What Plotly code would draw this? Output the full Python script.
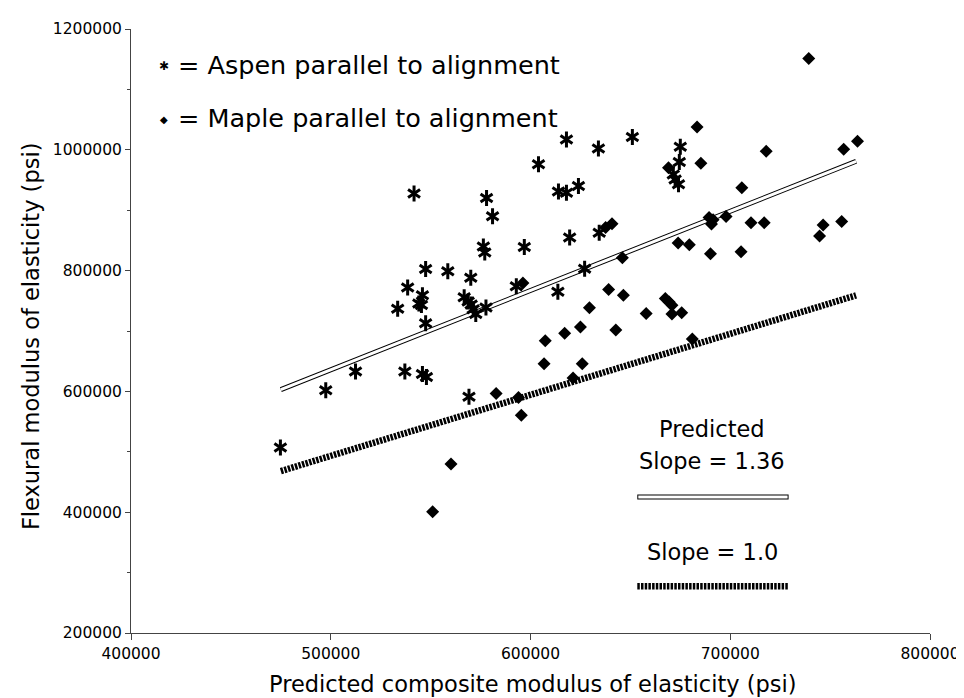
import plotly.graph_objects as go

# ---- data ----
aspen_x = [541700, 578000, 581000, 604000, 618000, 634000, 651000, 614000, 618000, 624000,
           675000, 674500, 671500, 672400, 674100, 576400, 577100, 596900, 619600, 634400,
           547500, 558600, 570100, 538500, 545900, 544100, 545400, 533500, 547500, 566800,
           568800, 570300, 571300, 572600, 577700, 592900, 627100, 613700, 512400, 497500,
           537100, 545900, 547900, 569200, 474800]
aspen_y = [927500, 920000, 890000, 976000, 1017000, 1002000, 1021000, 931000, 929000, 940000,
           1005000, 980000, 959000, 951000, 943000, 840000, 830000, 839000, 855000, 862500,
           802500, 799000, 788000, 772000, 759000, 745500, 743000, 737000, 713000, 756000,
           749000, 744000, 736000, 728000, 739000, 774000, 803000, 765000, 633000, 602000,
           633000, 629000, 624000, 591000, 507000]

maple_x = [739300, 683400, 718000, 756800, 763700, 685300, 669100, 705800, 689400, 691400,
           690600, 697900, 710400, 717000, 746500, 755800, 744700, 673900, 679500, 690100,
           705400, 646000, 637600, 640800, 639100, 646500, 629500, 657900, 667500, 669400,
           670800, 670800, 675700, 625000, 617100, 642700, 607400, 606800, 625900, 621300,
           681000, 582800, 594000, 595400, 560200, 551000, 596200]
maple_y = [1151000, 1037700, 997700, 1001000, 1014000, 977600, 970200, 937300, 888000, 884200,
           877200, 889600, 879300, 879300, 875500, 881400, 857400, 845900, 842600, 827800,
           831100, 821200, 871500, 877600, 768600, 759200, 738600, 729100, 753800, 748200,
           742800, 728000, 730100, 706600, 696200, 701600, 684000, 645700, 645700, 622200,
           686800, 596400, 589800, 560700, 479600, 400700, 779400]

pred_line_x = [475000, 763000]
pred_line_y = [603000, 981000]
one_line_x = [475000, 763000]
one_line_y = [468000, 759000]

x_ticks = [400000, 500000, 600000, 700000, 800000]
y_ticks = [200000, 400000, 600000, 800000, 1000000, 1200000]

FONT = "DejaVu Sans, Verdana, sans-serif"

fig = go.Figure()

# Slope = 1.0 line (thick hatched)
fig.add_trace(go.Scatter(x=one_line_x, y=one_line_y, mode="lines",
                         line=dict(color="black", width=6.5, dash="2.5px,1.2px"),
                         hoverinfo="skip", showlegend=False))
# Predicted line (double line: black outline with white core)
fig.add_trace(go.Scatter(x=pred_line_x, y=pred_line_y, mode="lines",
                         line=dict(color="black", width=5),
                         hoverinfo="skip", showlegend=False))
fig.add_trace(go.Scatter(x=pred_line_x, y=pred_line_y, mode="lines",
                         line=dict(color="white", width=3),
                         hoverinfo="skip", showlegend=False))

# Aspen: six-armed asterisk (two overlaid Y symbols)
for sym in ["y-up-open", "y-down-open"]:
    fig.add_trace(go.Scatter(x=aspen_x, y=aspen_y, mode="markers",
                             marker=dict(symbol=sym, size=10, color="black",
                                         line=dict(color="black", width=3)),
                             name="Aspen", showlegend=False))
# Maple: filled diamonds
fig.add_trace(go.Scatter(x=maple_x, y=maple_y, mode="markers",
                         marker=dict(symbol="diamond", size=10, color="black",
                                     line=dict(width=0)),
                         name="Maple", showlegend=False))

L, R, T, B = 123, 931, 17, 625
W, H = 964, 698

def px(xp):
    return (xp - L) / (R - L)

def py(yp):
    return (B - yp) / (B - T)

ann = []
# top-left key
ann.append(dict(x=px(156), y=py(54), text="✱", font=dict(size=12),
                showarrow=False, xanchor="center", yanchor="middle"))
ann.append(dict(x=px(169), y=py(53), text="= Aspen parallel to alignment",
                font=dict(size=25.5), showarrow=False, xanchor="left", yanchor="middle"))
ann.append(dict(x=px(156), y=py(108), text="◆", font=dict(size=10),
                showarrow=False, xanchor="center", yanchor="middle"))
ann.append(dict(x=px(169), y=py(107), text="= Maple parallel to alignment",
                font=dict(size=25.5), showarrow=False, xanchor="left", yanchor="middle"))
# line key texts
ann.append(dict(x=px(711), y=py(420), text="Predicted", font=dict(size=22.5),
                showarrow=False, xanchor="center", yanchor="middle"))
ann.append(dict(x=px(711), y=py(452), text="Slope = 1.36", font=dict(size=22.5),
                showarrow=False, xanchor="center", yanchor="middle"))
ann.append(dict(x=px(711), y=py(543), text="Slope = 1.0", font=dict(size=22.5),
                showarrow=False, xanchor="center", yanchor="middle"))
# axis titles
ann.append(dict(x=px(22), y=py(326), text="Flexural modulus of elasticity (psi)",
                textangle=-90, font=dict(size=22.5), showarrow=False,
                xanchor="center", yanchor="middle"))
ann.append(dict(x=px(530), y=py(676), text="Predicted composite modulus of elasticity (psi)",
                font=dict(size=22.5), showarrow=False, xanchor="center", yanchor="middle"))
for a in ann:
    a["xref"] = "paper"
    a["yref"] = "paper"

shapes = [
    dict(type="line", xref="paper", yref="paper", x0=px(635), x1=px(788),
         y0=py(488), y1=py(488), line=dict(color="black", width=5)),
    dict(type="line", xref="paper", yref="paper", x0=px(636), x1=px(787),
         y0=py(488), y1=py(488), line=dict(color="white", width=3)),
    dict(type="line", xref="paper", yref="paper", x0=px(635), x1=px(788),
         y0=py(578), y1=py(578), line=dict(color="black", width=6.5, dash="2.5px,1.2px")),
]

fig.update_layout(
    width=W, height=H,
    margin=dict(l=L, r=W - R, t=T, b=H - B),
    paper_bgcolor="white", plot_bgcolor="white",
    font=dict(family=FONT, color="black"),
    annotations=ann, shapes=shapes,
    showlegend=False,
)
fig.update_xaxes(range=[400000, 800000], tickvals=x_ticks, tickformat="d",
                 showline=True, linecolor="#444", linewidth=1, mirror=False,
                 ticks="outside", ticklen=6, tickcolor="#444", showgrid=False,
                 zeroline=False, tickfont=dict(size=15.5))
fig.update_yaxes(range=[200000, 1200000], tickvals=y_ticks, tickformat="d",
                 showline=True, linecolor="#444", linewidth=1, mirror=False,
                 ticks="outside", ticklen=5, tickcolor="#444", showgrid=False,
                 zeroline=False, tickfont=dict(size=15.5),
                 minor=dict(dtick=100000, ticks="outside", ticklen=3, tickcolor="#444"))

fig.write_html("out.html")
